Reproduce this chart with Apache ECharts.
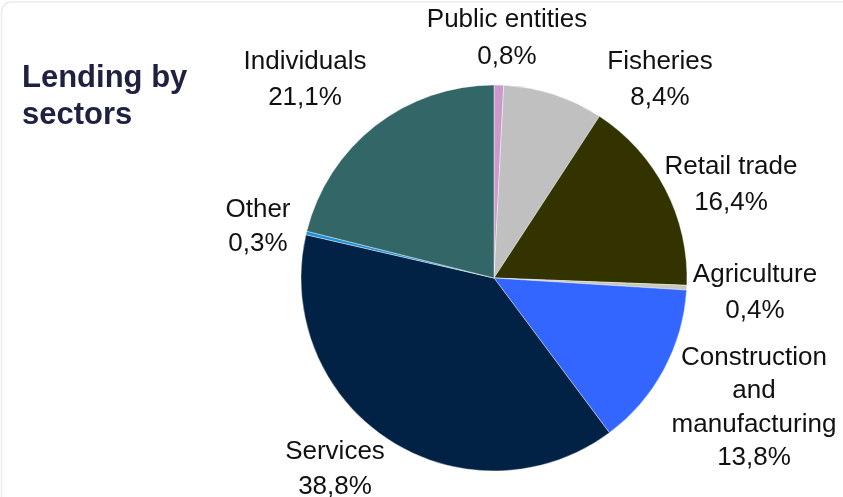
<!DOCTYPE html>
<html>
<head>
<meta charset="utf-8">
<script src="https://cdn.jsdelivr.net/npm/echarts@6/dist/echarts.min.js"></script>
<style>
  html, body { margin: 0; padding: 0; background: #ffffff; }
  #chart { width: 843px; height: 497px; }
</style>
</head>
<body>
<div id="chart"></div>
<script>
// Lending split by sector, in percent of total
const sectors = ['Public entities', 'Fisheries', 'Retail trade', 'Agriculture',
  'Construction\nand\nmanufacturing', 'Services', 'Other', 'Individuals'];
const shares = [0.8, 8.4, 16.4, 0.4, 13.8, 38.8, 0.3, 21.1];
const sliceColors = ['#cc99cc', '#c0c0c0', '#333300', '#c8c8bc',
  '#3366ff', '#012145', '#1e90d8', '#336666'];

// where each sector's label sits (centre of the text block) and its line spacing
const labelSpots = {
  'Public entities': [507, 38, 37],
  'Fisheries': [660, 80, 36],
  'Retail trade': [731, 185, 36],
  'Agriculture': [755, 293, 36],
  'Construction\nand\nmanufacturing': [754, 408, 33.5],
  'Services': [335, 469, 35],
  'Other': [258, 227, 34],
  'Individuals': [305, 80, 36]
};

const chart = echarts.init(document.getElementById('chart'), null, { renderer: 'canvas' });

const fmt = v => v.toFixed(1).replace('.', ',') + '%';

chart.setOption({
  animation: false,
  backgroundColor: '#ffffff',
  graphic: [
    {
      type: 'rect',
      shape: { x: 1.5, y: 2, width: 900, height: 560, r: 10 },
      style: { fill: 'none', stroke: '#ebebeb', lineWidth: 1.5 },
      silent: true, z: -1
    },
    {
      type: 'text',
      left: 22, top: 60,
      style: {
        text: 'Lending by\nsectors',
        fill: '#1e2140',
        font: 'bold 31px "Liberation Sans", Arial, sans-serif',
        lineHeight: 37
      }
    }
  ],
  series: [{
    type: 'pie',
    center: [494, 278],
    radius: 193,
    startAngle: 90,
    clockwise: true,
    avoidLabelOverlap: false,
    itemStyle: { borderColor: '#ffffff', borderWidth: 0.4 },
    label: {
      show: true,
      position: 'outside',
      color: '#111111',
      fontFamily: '"Liberation Sans", Arial, sans-serif',
      fontSize: 26,
      align: 'center',
      formatter: p => p.name + '\n' + fmt(p.value)
    },
    labelLine: { show: false },
    labelLayout: p => {
      const s = labelSpots[sectors[p.dataIndex]];
      return { x: s[0], y: s[1], align: 'center', verticalAlign: 'middle' };
    },
    data: sectors.map((name, i) => ({
      name: name,
      value: shares[i],
      itemStyle: { color: sliceColors[i] },
      label: { lineHeight: labelSpots[name][2] }
    }))
  }]
});
</script>
</body>
</html>
